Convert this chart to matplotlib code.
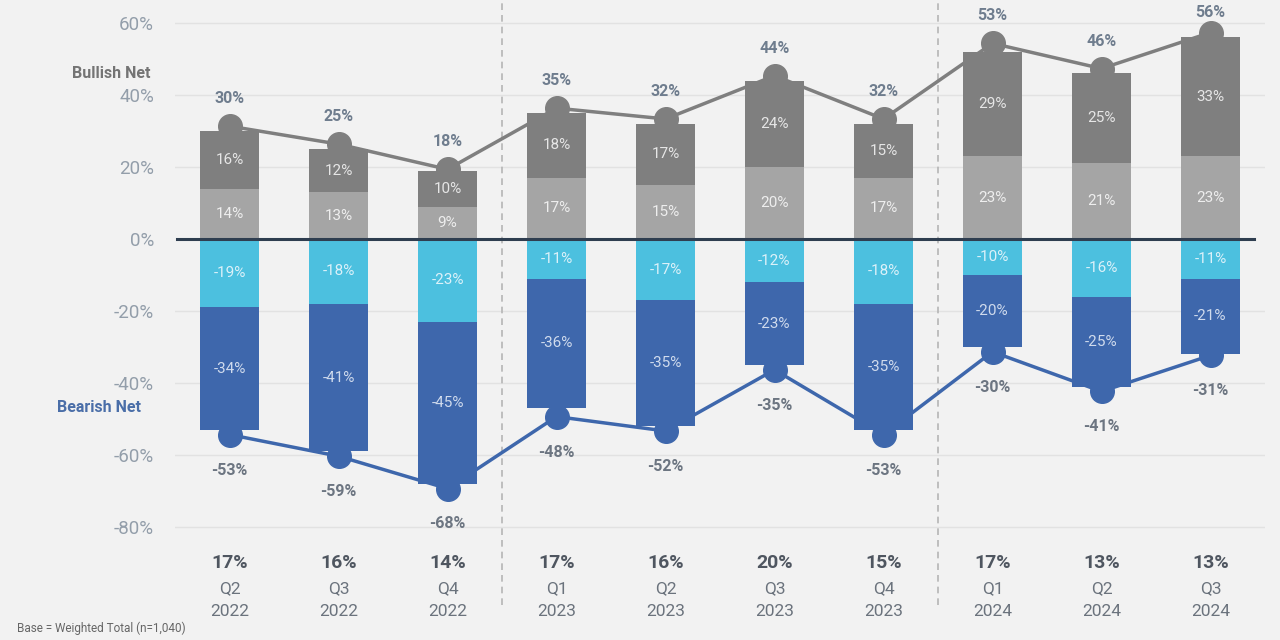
import matplotlib
matplotlib.use("Agg")
import matplotlib.pyplot as plt
import matplotlib.transforms as mtransforms
import numpy as np

plt.rcParams['font.family'] = ['Roboto', 'DejaVu Sans']

# Datos
quarters = ['Q2', 'Q3', 'Q4', 'Q1', 'Q2', 'Q3', 'Q4', 'Q1', 'Q2', 'Q3']
years = ['2022', '2022', '2022', '2023', '2023', '2023', '2023', '2024', '2024', '2024']
neutral = [17, 16, 14, 17, 16, 20, 15, 17, 13, 13]

bull_low = [14, 13, 9, 17, 15, 20, 17, 23, 21, 23]
bull_high = [16, 12, 10, 18, 17, 24, 15, 29, 25, 33]
bull_net = [30, 25, 18, 35, 32, 44, 32, 53, 46, 56]

bear_low = [-19, -18, -23, -11, -17, -12, -18, -10, -16, -11]
bear_high = [-34, -41, -45, -36, -35, -23, -35, -20, -25, -21]
bear_net = [-53, -59, -68, -48, -52, -35, -53, -30, -41, -31]

yticks = [60, 40, 20, 0, -20, -40, -60, -80]

BG = '#f2f2f2'
C_DARK = '#7f7f7f'
C_LIGHT = '#a5a5a5'
C_CYAN = '#4cc0df'
C_BLUE = '#3e67ac'

fig = plt.figure(figsize=(12.8, 6.4), dpi=100, facecolor=BG)
ax = fig.add_axes([175 / 1280, 35 / 640, 1090 / 1280, 605 / 640])
ax.set_facecolor(BG)
ax.set_xlim(-0.5, 9.5)
ax.set_ylim(-101.7, 66.4)
for s in ax.spines.values():
    s.set_visible(False)

x = np.arange(len(quarters))
w = 0.55

# lineas de la cuadricula
for t in yticks:
    if t != 0:
        ax.axhline(t, color='#e2e2e2', lw=1, zorder=0)

ax.set_yticks(yticks)
ax.set_yticklabels([f'{t}%' for t in yticks])
ax.tick_params(axis='y', length=0, pad=15, labelsize=13.5, labelcolor='#939eaa')
ax.set_xticks([])

# separadores de año
for xs in [2.5, 6.5]:
    ax.axvline(xs, color='#b5b5b5', lw=1.2, ls=(0, (4, 3)), zorder=0)

# barras
ax.bar(x, bull_low, w, color=C_LIGHT, zorder=2)
ax.bar(x, bull_high, w, bottom=bull_low, color=C_DARK, zorder=2)
ax.bar(x, bear_low, w, color=C_CYAN, zorder=2)
ax.bar(x, bear_high, w, bottom=bear_low, color=C_BLUE, zorder=2)

ax.axhline(0, xmin=0.002, xmax=0.99, color='#2f3e50', lw=2.2, zorder=3)

for i in range(len(x)):
    ax.text(x[i], bull_low[i] / 2, f'{bull_low[i]}%', ha='center', va='center',
            fontsize=11, color='#eeeeee', zorder=4)
    ax.text(x[i], bull_low[i] + bull_high[i] / 2, f'{bull_high[i]}%', ha='center',
            va='center', fontsize=11, color='#e6e6e6', zorder=4)
    ax.text(x[i], bear_low[i] / 2, f'{bear_low[i]}%', ha='center', va='center',
            fontsize=11, color='#dcf1f9', zorder=4)
    ax.text(x[i], bear_low[i] + bear_high[i] / 2, f'{bear_high[i]}%', ha='center',
            va='center', fontsize=11, color='#d0dbed', zorder=4)

# lineas de neto (los circulos quedan un poco fuera del extremo de la barra)
up = mtransforms.offset_copy(ax.transData, fig=fig, x=0, y=3.5, units='points')
down = mtransforms.offset_copy(ax.transData, fig=fig, x=0, y=-3.5, units='points')
ax.plot(x, bull_net, color=C_DARK, lw=2.5, marker='o', ms=17, zorder=5, transform=up)
ax.plot(x, bear_net, color=C_BLUE, lw=2.5, marker='o', ms=17, zorder=5, transform=down)

for i in range(len(x)):
    ax.text(x[i], min(bull_net[i] + 9, 62.8), f'{bull_net[i]}%', ha='center',
            va='center', fontsize=11.5, fontweight='bold', color='#6f7d8e', zorder=6)
    ax.annotate(f'{bear_net[i]}%', (x[i], bear_net[i]), xytext=(0, -29),
                textcoords='offset points', ha='center', va='center',
                fontsize=11.5, fontweight='bold', color='#6c7581', zorder=6)

# etiquetas inferiores
for i in range(len(x)):
    ax.text(x[i], -90, f'{neutral[i]}%', ha='center', va='center', fontsize=14,
            fontweight='bold', color='#4f5660', clip_on=False)
    ax.text(x[i], -97.2, quarters[i], ha='center', va='center', fontsize=12.5,
            color='#6b737d', clip_on=False)
    ax.text(x[i], -103.6, years[i], ha='center', va='center', fontsize=12.5,
            color='#6b737d', clip_on=False)

ax.text(-1.09, 46.1, 'Bullish Net', ha='center', va='center', fontsize=11.5,
        fontweight='bold', color='#747474', clip_on=False)
ax.text(-1.2, -46.7, 'Bearish Net', ha='center', va='center', fontsize=11.5,
        fontweight='bold', color='#4a6ea8', clip_on=False)

fig.text(17 / 1280, 1 - 628 / 640, 'Base = Weighted Total (n=1,040)', ha='left',
         va='center', fontsize=8.5, color='#666666')

fig.savefig('out.png', dpi=100, facecolor=BG)
